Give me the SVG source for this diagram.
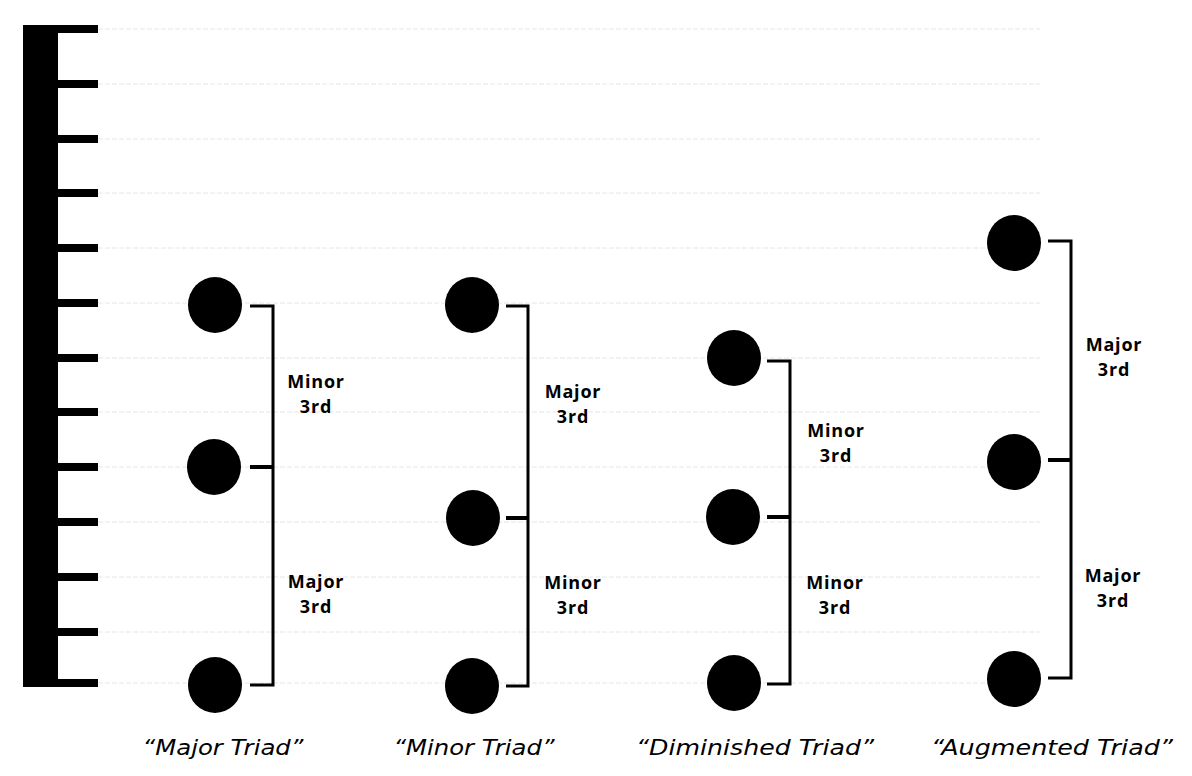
<svg xmlns="http://www.w3.org/2000/svg" width="1192" height="776" viewBox="0 0 1192 776">
<style>
  .grid { stroke: #e6e6e6; stroke-width: 1; stroke-dasharray: 5 2; fill: none; }
  .tick { fill: #000; }
  .note { fill: #000; }
  .br { stroke: #000; stroke-width: 3; fill: none; }
  .mid { stroke: #000; stroke-width: 4; fill: none; }
  .lbl { font-family: "Open Sans", "Liberation Sans", sans-serif; font-weight: 700; font-size: 18px; fill: #000; text-anchor: middle; letter-spacing: 0.8px; }
  .name { font-family: "DejaVu Sans", "Open Sans", sans-serif; font-style: italic; font-weight: 400; font-size: 21px; fill: #000; text-anchor: middle; }
</style>
<rect width="1192" height="776" fill="#fff"/>
<g id="grid">
  <line class="grid" x1="98" y1="29" x2="1040" y2="29"/>
  <line class="grid" x1="98" y1="84" x2="1040" y2="84"/>
  <line class="grid" x1="98" y1="139" x2="1040" y2="139"/>
  <line class="grid" x1="98" y1="193" x2="1040" y2="193"/>
  <line class="grid" x1="98" y1="248" x2="1040" y2="248"/>
  <line class="grid" x1="98" y1="303" x2="1040" y2="303"/>
  <line class="grid" x1="98" y1="358" x2="1040" y2="358"/>
  <line class="grid" x1="98" y1="412" x2="1040" y2="412"/>
  <line class="grid" x1="98" y1="467" x2="1040" y2="467"/>
  <line class="grid" x1="98" y1="522" x2="1040" y2="522"/>
  <line class="grid" x1="98" y1="577" x2="1040" y2="577"/>
  <line class="grid" x1="98" y1="632" x2="1040" y2="632"/>
  <line class="grid" x1="98" y1="683" x2="1040" y2="683"/>
</g>
<g id="ruler">
  <rect x="23" y="25" width="35" height="662" fill="#000"/>
  <rect class="tick" x="58" y="25" width="40" height="8"/>
  <rect class="tick" x="58" y="80" width="40" height="8"/>
  <rect class="tick" x="58" y="135" width="40" height="8"/>
  <rect class="tick" x="58" y="189" width="40" height="8"/>
  <rect class="tick" x="58" y="244" width="40" height="8"/>
  <rect class="tick" x="58" y="299" width="40" height="8"/>
  <rect class="tick" x="58" y="354" width="40" height="8"/>
  <rect class="tick" x="58" y="408" width="40" height="8"/>
  <rect class="tick" x="58" y="463" width="40" height="8"/>
  <rect class="tick" x="58" y="518" width="40" height="8"/>
  <rect class="tick" x="58" y="573" width="40" height="8"/>
  <rect class="tick" x="58" y="628" width="40" height="8"/>
  <rect class="tick" x="58" y="679" width="40" height="8"/>
</g>
<g id="connectors">
  <polyline class="br" points="250,306 273,306 273,685 250,685"/>
  <line class="mid" x1="250" y1="467" x2="273" y2="467"/>
  <polyline class="br" points="506,306 528,306 528,686 506,686"/>
  <line class="mid" x1="506" y1="518" x2="528" y2="518"/>
  <polyline class="br" points="767,361 790,361 790,684 767,684"/>
  <line class="mid" x1="767" y1="517" x2="790" y2="517"/>
  <polyline class="br" points="1048,241 1071,241 1071,678 1048,678"/>
  <line class="mid" x1="1048" y1="460" x2="1071" y2="460"/>
</g>
<g id="major-triad">
  <ellipse class="note" cx="215" cy="305" rx="27" ry="28"/>
  <ellipse class="note" cx="214" cy="467" rx="27" ry="28"/>
  <ellipse class="note" cx="215" cy="685" rx="27" ry="28"/>
  <text class="lbl" x="316" y="388">Minor</text>
  <text class="lbl" x="316" y="413">3rd</text>
  <text class="lbl" x="316" y="588">Major</text>
  <text class="lbl" x="316" y="613">3rd</text>
  <text class="name" x="223" y="755" textLength="161" lengthAdjust="spacingAndGlyphs">“Major Triad”</text>
</g>
<g id="minor-triad">
  <ellipse class="note" cx="472" cy="305" rx="27" ry="28"/>
  <ellipse class="note" cx="473" cy="518" rx="27" ry="28"/>
  <ellipse class="note" cx="472" cy="686" rx="27" ry="28"/>
  <text class="lbl" x="573" y="398">Major</text>
  <text class="lbl" x="573" y="423">3rd</text>
  <text class="lbl" x="573" y="589">Minor</text>
  <text class="lbl" x="573" y="614">3rd</text>
  <text class="name" x="474" y="755" textLength="161" lengthAdjust="spacingAndGlyphs">“Minor Triad”</text>
</g>
<g id="diminished-triad">
  <ellipse class="note" cx="734" cy="358" rx="27" ry="28"/>
  <ellipse class="note" cx="733" cy="517" rx="27" ry="28"/>
  <ellipse class="note" cx="734" cy="683" rx="27" ry="28"/>
  <text class="lbl" x="836" y="437">Minor</text>
  <text class="lbl" x="836" y="462">3rd</text>
  <text class="lbl" x="835" y="589">Minor</text>
  <text class="lbl" x="835" y="614">3rd</text>
  <text class="name" x="755" y="755" textLength="238" lengthAdjust="spacingAndGlyphs">“Diminished Triad”</text>
</g>
<g id="augmented-triad">
  <ellipse class="note" cx="1014" cy="243" rx="27" ry="28"/>
  <ellipse class="note" cx="1014" cy="462" rx="27" ry="28"/>
  <ellipse class="note" cx="1014" cy="679" rx="27" ry="28"/>
  <text class="lbl" x="1114" y="351">Major</text>
  <text class="lbl" x="1114" y="376">3rd</text>
  <text class="lbl" x="1113" y="582">Major</text>
  <text class="lbl" x="1113" y="607">3rd</text>
  <text class="name" x="1052" y="755" textLength="242" lengthAdjust="spacingAndGlyphs">“Augmented Triad”</text>
</g>
</svg>
